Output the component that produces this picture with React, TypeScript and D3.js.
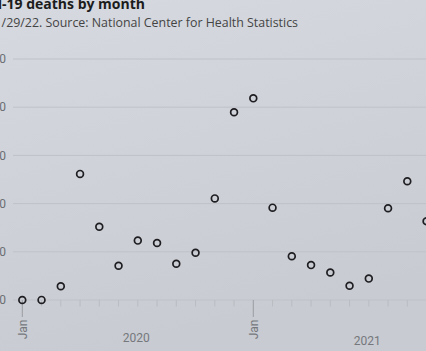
import { useEffect, useRef } from "react";
import * as d3 from "d3";

// monthly covid-19 deaths, Jan 2020 .. Oct 2021
const months = [
  "2020-01", "2020-02", "2020-03", "2020-04", "2020-05", "2020-06",
  "2020-07", "2020-08", "2020-09", "2020-10", "2020-11", "2020-12",
  "2021-01", "2021-02", "2021-03", "2021-04", "2021-05", "2021-06",
  "2021-07", "2021-08", "2021-09", "2021-10",
];
const deaths = [
  0, 50, 7100, 65400, 38000, 17800,
  30800, 29600, 18800, 24500, 52700, 97400,
  104600, 47900, 22700, 18100, 14300, 7400,
  11100, 47600, 61600, 40800,
];
const yTicks = [0, 25000, 50000, 75000, 100000, 125000];
const years = ["2020", "2021"];

const title = "Covid-19 deaths by month";
const subtitle = "Note: Data as of 1/29/22. Source: National Center for Health Statistics";

const W = 426;
const H = 351;

export default function App() {
  const ref = useRef<SVGSVGElement | null>(null);

  useEffect(() => {
    const svg = d3.select(ref.current);
    svg.selectAll("*").remove();

    // photo-ish background
    const grad = svg.append("defs").append("linearGradient")
      .attr("id", "bg").attr("x1", 0).attr("y1", 0).attr("x2", 0.3).attr("y2", 1);
    grad.append("stop").attr("offset", "0%").attr("stop-color", "#d6d9e0");
    grad.append("stop").attr("offset", "100%").attr("stop-color", "#c8cbd1");
    svg.append("rect").attr("width", W).attr("height", H).attr("fill", "url(#bg)");

    const x = d3.scaleLinear().domain([0, 20]).range([22.3, 407.3]);
    const y = d3.scaleLinear().domain([0, 125000]).range([300, 59]);

    // titles, cut at the left edge like the photo
    svg.append("text")
      .attr("x", 145).attr("y", 9)
      .attr("text-anchor", "end")
      .attr("font-family", "'Open Sans', sans-serif")
      .attr("font-weight", 700)
      .attr("font-size", 14)
      .attr("fill", "#1c1c1c")
      .text(title);
    svg.append("text")
      .attr("x", 298).attr("y", 26.5)
      .attr("text-anchor", "end")
      .attr("font-family", "'Open Sans', sans-serif")
      .attr("font-size", 12.4)
      .attr("fill", "#444")
      .text(subtitle);

    // grid + y labels
    const grid = svg.append("g");
    grid.selectAll("line")
      .data(yTicks)
      .join("line")
      .attr("x1", 13).attr("x2", W)
      .attr("y1", d => y(d)).attr("y2", d => y(d))
      .attr("stroke", "#bfc2c8")
      .attr("stroke-width", 1);
    grid.selectAll("text")
      .data(yTicks)
      .join("text")
      .attr("x", 6)
      .attr("y", d => y(d))
      .attr("dy", "0.35em")
      .attr("text-anchor", "end")
      .attr("font-family", "Roboto, sans-serif")
      .attr("font-size", 12)
      .attr("fill", "#6b6e73")
      .text(d => d3.format(",")(d));

    // month ticks, january gets a long one plus a rotated label
    const idx = d3.range(months.length);
    const isJan = (i: number) => months[i].endsWith("-01");
    svg.append("g").selectAll("line")
      .data(idx)
      .join("line")
      .attr("x1", i => x(i)).attr("x2", i => x(i))
      .attr("y1", y(0))
      .attr("y2", i => (isJan(i) ? 317 : 306.5))
      .attr("stroke", i => (isJan(i) ? "#9a9da2" : "#b9bcc2"))
      .attr("stroke-width", 1);

    svg.append("g").selectAll("text")
      .data(idx.filter(isJan))
      .join("text")
      .attr("transform", i => `translate(${x(i)},319.5) rotate(-90)`)
      .attr("dy", "0.35em")
      .attr("text-anchor", "end")
      .attr("font-family", "Roboto, sans-serif")
      .attr("font-size", 12)
      .attr("fill", "#75787d")
      .text("Jan");

    svg.append("g").selectAll("text")
      .data(years)
      .join("text")
      .attr("x", (yr, k) => x(months.indexOf(`${yr}-07`)) - 1.5)
      .attr("y", (yr, k) => 341.5 + k * 3)
      .attr("text-anchor", "middle")
      .attr("font-family", "Roboto, sans-serif")
      .attr("font-size", 12)
      .attr("fill", "#75787d")
      .text(d => d);

    // the points
    svg.append("g").selectAll("circle")
      .data(deaths)
      .join("circle")
      .attr("cx", (d, i) => x(i))
      .attr("cy", d => y(d))
      .attr("r", 3.4)
      .attr("fill", "none")
      .attr("stroke", "#1e1e22")
      .attr("stroke-width", 1.7);
  }, []);

  return (
    <svg
      ref={ref}
      width={W}
      height={H}
      style={{ position: "fixed", left: 0, top: 0, display: "block" }}
    />
  );
}
